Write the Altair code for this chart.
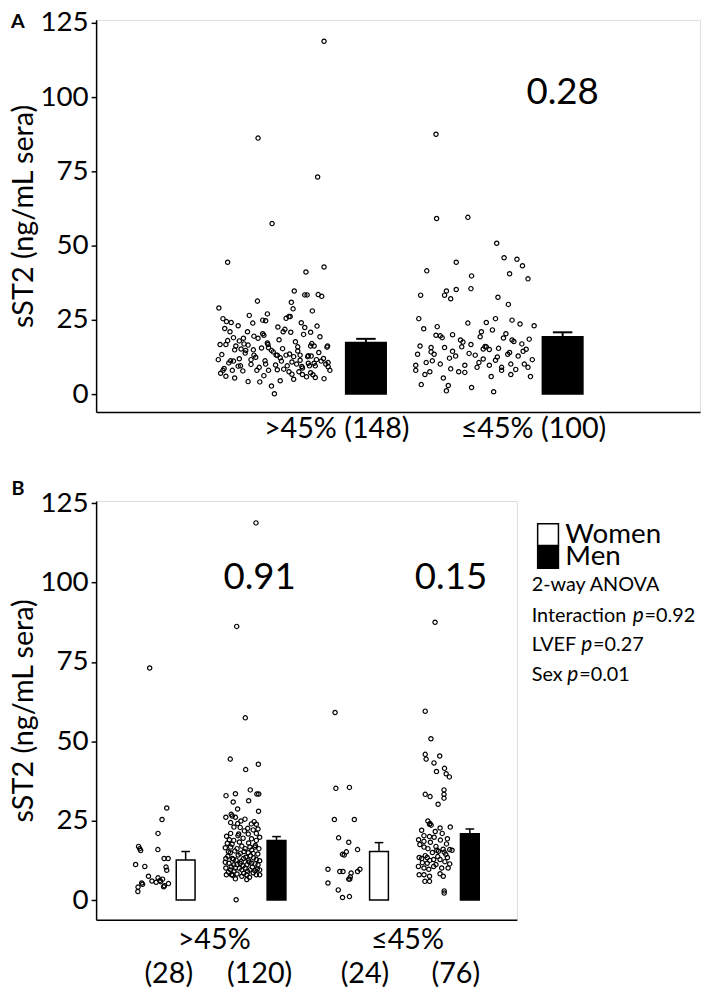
import altair as alt
import pandas as pd

FONT = "Lato"

# ---------------- data (sST2, ng/mL sera) ----------------
# Panel B groups: values and jitter offsets (fraction of half cloud width)
women_hi_val = [73.1, 29.0, 25.4, 21.0, 16.9, 16.2, 15.6, 15.9, 11.2, 10.6, 13.1, 13.1, 10.4, 9.4,
                7.5, 6.0, 5.6, 6.2, 6.6, 4.2, 4.5, 5.2, 5.4, 5.0, 4.1, 2.7, 5.8, 7.0]
women_hi_off = [-0.15, 0.83, 0.56, 0.33, -0.79, -0.72, -0.67, 0.32, -0.96, -0.43, 0.68, 0.91, 0.79, 0.83,
                -0.22, -0.02, 0.22, 0.44, 0.59, 0.65, 0.7, 0.93, -0.61, -0.56, -0.82, -0.83, 0.48, 0.33]

men_hi_val = [118.8, 86.2, 57.4, 44.4, 42.8, 41.1, 34.7, 33.4, 33.4, 32.9, 33.5, 30.9, 31.3, 28.7, 28.0,
              26.1, 26.5, 26.1, 24.9, 24.4, 24.1, 24.7, 23.9, 22.9, 22.4,
              22.1, 21.0, 20.8, 20.8, 21.0, 17.9, 18.8, 20.3, 19.3, 18.8,
              19.8, 16.7, 16.2, 16.2, 16.7, 16.7, 16.2, 15.2, 14.7, 14.9,
              14.7, 13.1, 13.1, 12.6, 13.1, 12.6, 12.8, 11.6, 11.1, 11.6,
              11.1, 11.6, 11.1, 10.1, 9.5, 10.1, 9.5, 10.1, 9.5, 9.3,
              9.5, 8.0, 8.0, 8.2, 7.5, 8.0, 8.0, 8.0, 6.7, 6.5, 0.1,
              23.0, 21.8, 20.1, 19.5, 18.3, 18.0, 17.6, 17.2, 17.0, 16.5,
              15.8, 15.5, 15.3, 14.9, 14.5, 14.2, 14.0, 13.8, 13.5, 13.3,
              12.9, 12.4, 12.2, 12.0, 11.9, 11.4, 11.2, 10.8, 10.5, 10.4,
              10.0, 9.8, 9.2, 9.0, 8.8, 8.6, 8.4, 7.8, 7.2, 22.6,
              19.0, 25.5, 27.0, 24.0]
men_hi_off = [0.75, -0.30, 0.17, -0.65, 0.88, 0.19, 0.44, 0.80, 0.90, -0.88, -0.37, -0.49, 0.35, -0.25, 0.89,
              -0.89, -0.54, -0.37, -0.07, -0.63, -0.25, 0.65, 0.77, -0.11, 0.86,
              0.60, -0.63, -0.19, 0.33, 0.77, -0.81, -0.46, -0.23, 0.51, 0.77,
              0.95, -0.63, -0.28, 0.16, 0.42, 0.68, 0.91, -0.75, -0.11, 0.33,
              0.60, -0.89, -0.54, -0.33, 0.07, 0.33, 0.77, -0.72, -0.46, -0.11,
              0.25, 0.51, 0.86, -0.89, -0.63, -0.37, -0.02, 0.16, 0.42, 0.68,
              0.95, -0.86, -0.58, -0.28, -0.02, 0.25, 0.77, 0.95, -0.37, 0.25, -0.33,
              -0.45, 0.12, -0.85, 0.05, -0.15, 0.35, -0.55, 0.72, -0.02, -0.92,
              0.52, -0.40, 0.10, -0.65, 0.85, -0.22, 0.45, -0.78, 0.20, 0.62,
              -0.48, 0.95, -0.05, 0.38, -0.92, 0.70, -0.28, 0.05, -0.60, 0.55,
              -0.15, 0.82, -0.45, 0.30, -0.75, 0.60, 0.08, -0.52, 0.40, 0.30,
              -0.70, 0.15, -0.60, 0.50]

women_lo_val = [59.1, 35.2, 35.5, 25.4, 25.4, 19.6, 18.2, 15.9, 15.2, 14.4, 14.2, 9.7,
                9.0, 9.0, 8.5, 9.0, 9.7, 7.3, 6.6, 6.6, 5.4, 3.2, 0.8, 1.1]
women_lo_off = [-0.54, -0.49, 0.31, -0.58, 0.60, -0.33, 0.27, 0.79, 0.13, -0.10, 0.00, -0.96,
                -0.26, -0.07, 0.41, 0.79, 0.93, 0.36, 0.27, 0.33, -0.96, -0.35, -0.10, 0.31]

men_lo_val = [87.5, 59.5, 50.8, 45.9, 45.4, 44.4, 43.2, 40.5, 41.5, 39.8, 38.8, 34.7, 33.3, 32.1,
              33.3, 32.6, 30.2, 24.1,
              23.9, 23.6, 22.7, 21.6, 22.0, 20.3, 20.0, 19.3, 18.5, 18.2,
              17.7, 15.7, 15.4, 16.7, 15.9, 15.7, 15.1, 13.4, 13.1, 13.4,
              12.8, 12.8, 13.4, 11.8, 11.6, 12.1, 11.4, 10.6, 10.1, 9.7,
              10.6, 10.1, 10.1, 8.0, 8.0, 7.5, 8.3, 7.5, 5.9, 5.9,
              2.9, 2.2,
              21.0, 19.8, 18.9, 17.5, 16.9, 16.2, 15.0, 14.4, 14.0, 13.7,
              12.5, 11.2, 23.0, 19.0, 16.0, 24.9]
men_lo_off = [0.00, -0.55, -0.23, -0.55, 0.26, -0.50, -0.06, 0.08, 0.53, 0.62, 0.80, 0.50, 0.50, 0.50,
              -0.55, -0.28, 0.17, -0.28,
              -0.31, -0.22, 0.28, 0.01, -0.75, -0.62, -0.31, 0.69, -0.62, -0.26,
              0.64, 0.10, 0.19, -0.62, 0.82, 0.95, 0.51, -0.89, -0.75, -0.44,
              -0.08, 0.28, 0.69, -0.71, -0.44, 0.55, 0.82, -0.93, -0.62, -0.35,
              -0.08, 0.37, 0.73, -0.89, -0.62, -0.31, 0.28, 0.46, -0.57, -0.31,
              0.51, 0.51,
              0.40, -0.05, 0.30, -0.85, 0.05, -0.40, -0.15, 0.60, -0.55, 0.15,
              -0.30, 0.05, 0.85, -0.92, 0.45, -0.40]

# Panel A jitter offsets (same patients, pooled by LVEF group: women then men)
a_hi_off = [0.74, -0.95, -0.88, 0.15, -0.52, 0.62, -0.10, 0.40, -0.75, 0.92, -0.35, 0.05, 0.58, -0.62,
            0.25, -0.83, 0.70, -0.18, 0.48, -0.45, 0.10, 0.85, -0.68, 0.33, -0.25, -0.05, 0.55, -0.92,
            0.85, -0.28, -0.04, -0.80, 0.85, 0.54, 0.34, 0.52, 0.56, 0.81, 0.75, 0.29, -0.29, 0.32, 0.65,
            0.25, -0.43, 0.27, -0.20, -0.82, -0.74, -0.15, -0.37, 0.73, 0.52,
            -0.85, -0.76, 0.28, 0.62, -0.46, -0.60, -0.53, -0.20, 0.78, -0.28,
            -0.18, -0.11, 0.68, 0.91, -0.93, -0.83, -0.66, -0.57, -0.49, -0.36,
            -0.05, 0.03, 0.20, 0.33, 0.44, 0.57, 0.63, 0.72, 0.80, -0.96,
            -0.70, -0.40, 0.12, 0.38, 0.60, 0.88, -0.58, -0.15, 0.22, 0.47,
            0.70, -0.88, -0.30, 0.05, 0.42, 0.95, -0.72, -0.10, 0.30, 0.66, 0.00,
            -0.62, 0.18, 0.50, -0.35, 0.08, -0.80, 0.36, -0.12, 0.64, -0.45,
            0.90, -0.22, 0.14, -0.68, 0.40, -0.02, 0.76, -0.50, 0.26, -0.90,
            0.58, -0.32, 0.10, 0.84, -0.60, 0.44, -0.16, 0.30, -0.78, 0.68,
            -0.40, 0.02, 0.92, -0.26, 0.48, -0.86, 0.16, -0.54, 0.62, 0.06,
            -0.70, 0.20, -0.12, 0.46]
a_lo_off = [-0.61, -0.29, -0.05, -0.90, 0.35, -0.55, 0.62, -0.20, 0.15, 0.80, -0.70, -0.95,
            0.05, 0.45, -0.38, 0.88, 0.25, -0.15, 0.60, -0.80, -0.50, -0.86, 0.32, -0.45,
            -0.62, -0.10, 0.37, 0.49, 0.70, -0.29, 0.79, 0.58, -0.77, -0.04, 0.88, -0.45, -0.48, -0.38,
            -0.87, 0.39, 0.56, 0.20,
            -0.10, 0.75, -0.60, 0.30, -0.82, 0.52, -0.35, 0.10, 0.90, -0.22,
            0.65, -0.70, 0.40, -0.05, 0.20, -0.48, 0.85, -0.92, 0.02, 0.55,
            -0.30, 0.72, -0.65, 0.15, 0.95, -0.40, 0.35, -0.78, 0.60, -0.15,
            0.08, 0.82, -0.55, -0.95, 0.45, -0.25, 0.68, -0.72, 0.28, 0.92,
            -0.42, -0.04,
            0.12, -0.62, 0.48, -0.18, 0.78, -0.88, 0.25, -0.35, 0.58, -0.08, 0.38, -0.68, 0.98, -0.52,
            0.18, 0.62]

# bar heights (mean) and error-bar tops
a_mean = [17.4, 19.3]
a_upper = [18.6, 20.8]
b_mean = [12.6, 18.8, 15.3, 20.9]
b_upper = [15.3, 20.0, 18.1, 22.4]

a_labels = [">45% (148)", "≤45% (100)"]
a_pvals = ["0.28"]
b_pvals = ["0.91", "0.15"]
b_top_labels = [">45%", "≤45%"]
b_n_labels = ["(28)", "(120)", "(24)", "(76)"]
legend_labels = ["Women", "Men"]
stat_words = ["2-way ANOVA", "Interaction", "LVEF", "Sex"]
stat_p = ["=0.92", "=0.27", "=0.01"]

# ---------------- layout ----------------
WA, HA = 610, 396
WB, HB = 425, 423
YA_DOM = [-6, 126]
YB_DOM = [-6.2, 125.7]
LBL = 29

y_axis = alt.Axis(values=[0, 25, 50, 75, 100, 125], grid=False, labelFont=FONT, labelFontSize=28,
                  labelColor="black", tickColor="black", tickSize=5, tickWidth=1.5,
                  domainColor="black", domainWidth=1.5, labelPadding=3, titleFont=FONT,
                  titleFontSize=29, titleFontWeight="normal", titleColor="black", titlePadding=2)
x_axis = alt.Axis(labels=False, ticks=False, grid=False, title=None, domainColor="black", domainWidth=1.5)


def panel(width, height, ydom, clouds, bars, bar_w, cap_half, rule_w, pvals, letter):
    xs = alt.Scale(domain=[0, width], nice=False, zero=False)
    ys = alt.Scale(domain=ydom, nice=False, zero=False)
    X = lambda f: alt.X(f, type="quantitative", scale=xs, axis=x_axis, title=None)
    Y = lambda f: alt.Y(f, type="quantitative", scale=ys, axis=y_axis, title="sST2 (ng/mL sera)")

    rows = []
    for center, half, vals, offs in clouds:
        for v, o in zip(vals, offs):
            rows.append({"x": center + o * half, "y": v})
    pts = pd.DataFrame(rows)

    bdf = pd.DataFrame(bars)
    bdf["zero"] = 0.0
    bdf["capL"] = bdf["x"] - cap_half
    bdf["capR"] = bdf["x"] + cap_half

    points = alt.Chart(pts).mark_point(shape="circle", filled=False, size=19, strokeWidth=1.2,
                                       color="black", opacity=1).encode(x=X("x"), y=Y("y"))
    bar = alt.Chart(bdf).mark_bar(size=bar_w, stroke="black", strokeWidth=1.5).encode(
        x=X("x"), y=Y("mean"), y2="zero", fill=alt.Fill("fill:N", scale=None))
    err = alt.Chart(bdf).mark_rule(color="black", strokeWidth=rule_w).encode(x=X("x"), y=Y("mean"), y2="upper")
    cap = alt.Chart(bdf).mark_rule(color="black", strokeWidth=rule_w).encode(x=X("capL"), x2="capR", y=Y("upper"))
    ptxt = alt.Chart(pd.DataFrame(pvals)).mark_text(font=FONT, fontSize=37, color="black").encode(
        x=X("x"), y=Y("y"), text="t:N")
    let = alt.Chart(pd.DataFrame({"t": [letter[0]]})).mark_text(
        font=FONT, fontSize=20, fontWeight="bold", color="black").encode(
        x=alt.value(-79), y=alt.value(letter[1]), text="t:N")
    return [points, bar, err, cap, ptxt, let], X


# ---- Panel A
layersA, XA = panel(
    WA, HA, YA_DOM,
    clouds=[(178, 60, women_hi_val + men_hi_val, a_hi_off),
            (383, 63, women_lo_val + men_lo_val, a_lo_off)],
    bars={"x": [272, 474], "mean": a_mean, "upper": a_upper, "fill": ["black", "black"]},
    bar_w=41, cap_half=10, rule_w=2,
    pvals={"x": [474], "y": [101.5], "t": a_pvals}, letter=("A", 2))
xlabA = alt.Chart(pd.DataFrame({"x": [242, 444], "t": a_labels})).mark_text(
    font=FONT, fontSize=LBL, color="black", baseline="middle").encode(
    x=XA("x"), y=alt.value(HA + 17), text="t:N")
chartA = alt.layer(*layersA, xlabA).properties(width=WA, height=HA)

# ---- Panel B
layersB, XB = panel(
    WB, HB, YB_DOM,
    clouds=[(53, 18, women_hi_val, women_hi_off), (146, 19, men_hi_val, men_hi_off),
            (251.5, 17.5, women_lo_val, women_lo_off), (345.5, 18.5, men_lo_val, men_lo_off)],
    bars={"x": [87.5, 181.5, 287.5, 381.5], "mean": b_mean, "upper": b_upper,
          "fill": ["white", "black", "white", "black"]},
    bar_w=19, cap_half=4.5, rule_w=1.5,
    pvals={"x": [164, 362], "y": [101.5, 101.5], "t": b_pvals}, letter=("B", -12))
xtopB = alt.Chart(pd.DataFrame({"x": [117, 317], "t": b_top_labels})).mark_text(
    font=FONT, fontSize=LBL, color="black", baseline="middle").encode(
    x=XB("x"), y=alt.value(HB + 21), text="t:N")
xnB = alt.Chart(pd.DataFrame({"x": [70, 164, 273, 367], "t": b_n_labels})).mark_text(
    font=FONT, fontSize=LBL, color="black", baseline="middle").encode(
    x=XB("x"), y=alt.value(HB + 55), text="t:N")

# legend
leg = pd.DataFrame({"t": legend_labels, "fill": ["white", "black"], "y0": [23, 46], "y1": [45, 68], "ty": [34, 57]})
leg_box = alt.Chart(leg).mark_rect(stroke="black", strokeWidth=1.5).encode(
    x=alt.value(446), x2=alt.value(467), y=alt.Y("y0:Q", scale=None), y2="y1:Q",
    fill=alt.Fill("fill:N", scale=None))
leg_txt = alt.Chart(leg).mark_text(font=FONT, fontSize=28, color="black", align="left", baseline="middle").encode(
    x=alt.value(474), y=alt.Y("ty:Q", scale=None), text="t:N")

words = pd.DataFrame({"t": stat_words, "y": [85, 116, 146, 176]})
ps = pd.DataFrame({"t": ["p", "p", "p"], "x": [542, 490, 476], "y": [116, 146, 176]})
eqs = pd.DataFrame({"t": stat_p, "x": [554, 502, 488], "y": [116, 146, 176]})
stat_w = alt.Chart(words).mark_text(font=FONT, fontSize=20, color="black", align="left", baseline="middle").encode(
    x=alt.value(440), y=alt.Y("y:Q", scale=None), text="t:N")
stat_p_it = alt.Chart(ps).mark_text(font=FONT, fontSize=21, fontStyle="italic", color="black",
                                    align="left", baseline="middle").encode(
    x=alt.X("x:Q", scale=None), y=alt.Y("y:Q", scale=None), text="t:N")
stat_eq = alt.Chart(eqs).mark_text(font=FONT, fontSize=20, color="black", align="left", baseline="middle").encode(
    x=alt.X("x:Q", scale=None), y=alt.Y("y:Q", scale=None), text="t:N")

chartB = alt.layer(*layersB, xtopB, xnB, leg_box, leg_txt, stat_w, stat_p_it, stat_eq).properties(width=WB, height=HB)

chart = alt.vconcat(chartA, chartB, spacing=34).properties(
    padding={"left": 0, "top": -5, "right": 0, "bottom": 0}
).configure_view(stroke=None).configure(font=FONT)

chart.save("out.html", embed_options={"renderer": "svg", "actions": False})
